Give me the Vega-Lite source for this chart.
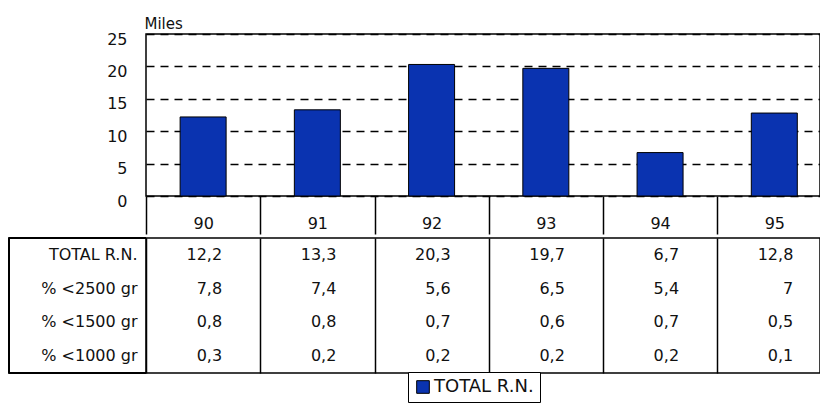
{
  "$schema": "https://vega.github.io/schema/vega-lite/v6.json",
  "padding": {"left": 7, "top": 15, "right": 0, "bottom": 0},
  "spacing": 0,
  "background": "white",
  "config": {
    "font": "DejaVu Sans",
    "view": {"stroke": "black", "strokeWidth": 1.5},
    "locale": {"number": {"decimal": ",", "thousands": ".", "grouping": [3], "currency": ["", ""]}}
  },
  "datasets": {
    "table": [
      {"row": "TOTAL R.N.", "year": 90, "value": 12.2},
      {"row": "TOTAL R.N.", "year": 91, "value": 13.3},
      {"row": "TOTAL R.N.", "year": 92, "value": 20.3},
      {"row": "TOTAL R.N.", "year": 93, "value": 19.7},
      {"row": "TOTAL R.N.", "year": 94, "value": 6.7},
      {"row": "TOTAL R.N.", "year": 95, "value": 12.8},
      {"row": "% <2500 gr", "year": 90, "value": 7.8},
      {"row": "% <2500 gr", "year": 91, "value": 7.4},
      {"row": "% <2500 gr", "year": 92, "value": 5.6},
      {"row": "% <2500 gr", "year": 93, "value": 6.5},
      {"row": "% <2500 gr", "year": 94, "value": 5.4},
      {"row": "% <2500 gr", "year": 95, "value": 7},
      {"row": "% <1500 gr", "year": 90, "value": 0.8},
      {"row": "% <1500 gr", "year": 91, "value": 0.8},
      {"row": "% <1500 gr", "year": 92, "value": 0.7},
      {"row": "% <1500 gr", "year": 93, "value": 0.6},
      {"row": "% <1500 gr", "year": 94, "value": 0.7},
      {"row": "% <1500 gr", "year": 95, "value": 0.5},
      {"row": "% <1000 gr", "year": 90, "value": 0.3},
      {"row": "% <1000 gr", "year": 91, "value": 0.2},
      {"row": "% <1000 gr", "year": 92, "value": 0.2},
      {"row": "% <1000 gr", "year": 93, "value": 0.2},
      {"row": "% <1000 gr", "year": 94, "value": 0.2},
      {"row": "% <1000 gr", "year": 95, "value": 0.1}
    ]
  },
  "vconcat": [
    {
      "width": 674,
      "height": 162,
      "data": {"name": "table"},
      "transform": [{"filter": "datum.row === 'TOTAL R.N.'"}],
      "mark": {"type": "bar", "width": 46, "stroke": "black", "strokeWidth": 1},
      "encoding": {
        "x": {
          "field": "year", "type": "quantitative",
          "scale": {"domain": [89.5, 95.4], "nice": false, "zero": false, "padding": 0},
          "axis": {
            "values": [90, 91, 92, 93, 94, 95], "format": "d",
            "tickOffset": -57, "labelOffset": 57, "tickSize": 38,
            "tickColor": "black", "tickWidth": 1.5, "domain": false, "grid": false,
            "labelPadding": -19, "labelFontSize": 16, "labelColor": "#111",
            "labelFlush": false, "labelOverlap": false, "title": null
          }
        },
        "y": {
          "field": "value", "type": "quantitative",
          "scale": {"domain": [0, 25], "nice": false},
          "axis": {
            "values": [0, 5, 10, 15, 20, 25], "grid": true,
            "gridDash": [8, 6], "gridColor": "black", "gridWidth": 1.5,
            "ticks": false, "domain": false, "labelPadding": 19,
            "labelOffset": 5, "labelFontSize": 16, "labelColor": "#111",
            "labelFlush": false,
            "title": "Miles", "titleAngle": 0, "titleAlign": "left",
            "titleBaseline": "alphabetic", "titleX": -2, "titleY": -6,
            "titleFontWeight": "normal", "titleFontSize": 15, "titleColor": "#111"
          }
        },
        "color": {
          "field": "row", "type": "nominal",
          "scale": {"range": ["#0a33b0"]},
          "legend": {
            "title": null, "orient": "none", "legendX": 262, "legendY": 338,
            "strokeColor": "black", "fillColor": "white", "padding": 6,
            "symbolType": "square", "symbolSize": 160, "symbolStrokeColor": "black",
            "symbolStrokeWidth": 1, "labelFontSize": 18, "labelColor": "#111",
            "labelOffset": 2, "cornerRadius": 0
          }
        }
      }
    },
    {
      "width": 674,
      "height": 135,
      "data": {"name": "table"},
      "layer": [
        {
          "mark": {"type": "text", "align": "right", "dx": 19, "fontSize": 16, "color": "#111"},
          "encoding": {
            "x": {
              "field": "year", "type": "quantitative",
              "scale": {"domain": [89.5, 95.4], "nice": false, "zero": false, "padding": 0},
              "axis": {
                "values": [90, 91, 92, 93, 94, 95], "tickOffset": -57,
                "grid": true, "gridColor": "black", "gridWidth": 1.5,
                "labels": false, "ticks": false, "domain": false, "title": null
              }
            },
            "y": {
              "field": "row", "type": "nominal",
              "sort": ["TOTAL R.N.", "% <2500 gr", "% <1500 gr", "% <1000 gr"],
              "scale": {"type": "band", "paddingInner": 0, "paddingOuter": 0},
              "axis": {
                "title": null, "ticks": false, "domain": false,
                "labelFontSize": 16, "labelPadding": 9, "labelColor": "#111"
              }
            },
            "text": {"field": "value", "type": "quantitative", "format": ".1~f"}
          }
        },
        {
          "mark": {"type": "rule", "color": "black", "strokeWidth": 1.5},
          "encoding": {"x": {"datum": 88.3, "type": "quantitative"}}
        },
        {
          "mark": {"type": "rule", "color": "black", "strokeWidth": 1.5},
          "encoding": {
            "x": {"datum": 88.3, "type": "quantitative"},
            "x2": {"datum": 89.5},
            "y": {"datum": "TOTAL R.N.", "type": "nominal", "bandPosition": 0}
          }
        },
        {
          "mark": {"type": "rule", "color": "black", "strokeWidth": 1.5},
          "encoding": {
            "x": {"datum": 88.3, "type": "quantitative"},
            "x2": {"datum": 89.5},
            "y": {"datum": "% <1000 gr", "type": "nominal", "bandPosition": 1}
          }
        }
      ]
    }
  ]
}
